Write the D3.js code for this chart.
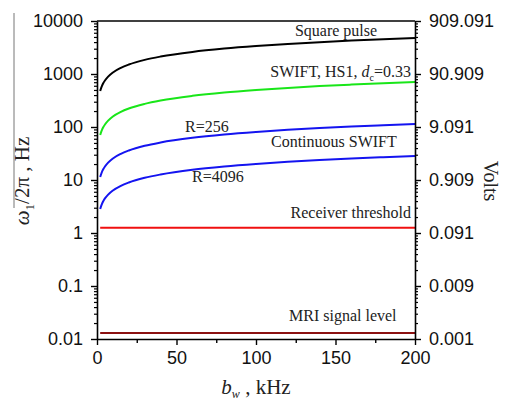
<!DOCTYPE html>
<html>
<head>
<meta charset="utf-8">
<script src="https://cdn.jsdelivr.net/npm/d3@7"></script>
<style>
  body { margin: 0; background: #fff; }
  .tick text { font-family: "Liberation Sans", Arial, sans-serif; }
  .serif { font-family: "Liberation Serif", "Times New Roman", serif; }
</style>
</head>
<body>
<svg id="vis" width="512" height="404"></svg>
<script>
// excitation bandwidth, kHz
const bw = [2, 3, 4, 5, 7, 10, 15, 20, 30, 40, 60, 80, 100, 120, 140, 160, 180, 200];

// B1 amplitude, Hz
const squarePulse = [477, 584, 675, 754, 892, 1067, 1306, 1508, 1847, 2133, 2613, 3017, 3373, 3695, 3991, 4266, 4525, 4770];
const swiftHS1    = [70.6, 86.5, 99.8, 111.6, 132, 158, 193, 223, 273, 316, 387, 447, 499, 547, 591, 631, 670, 706];
const cswiftR256  = [11.4, 14.0, 16.1, 18.0, 21.3, 25.5, 31.2, 36.0, 44.2, 51.0, 62.4, 72.1, 80.6, 88.3, 95.4, 102, 108, 114];
const cswiftR4096 = [2.84, 3.48, 4.02, 4.49, 5.31, 6.35, 7.78, 8.98, 11.0, 12.7, 15.6, 18.0, 20.1, 22.0, 23.8, 25.4, 26.9, 28.4];
const receiverThreshold = [1.25, 1.25];
const mriSignal = [0.013, 0.013];
const flatBw = [2, 200];

const xTicks = [0, 50, 100, 150, 200];
const xMinorTicks = [25, 75, 125, 175];
const yTicks = [0.01, 0.1, 1, 10, 100, 1000, 10000];
const leftTickLabels = ["0.01", "0.1", "1", "10", "100", "1000", "10000"];
const rightTickLabels = ["0.001", "0.009", "0.091", "0.909", "9.091", "90.909", "909.091"];

const margin = { top: 21, right: 97, bottom: 65, left: 97 },
      width = 512 - margin.left - margin.right,
      height = 404 - margin.top - margin.bottom;

const svg = d3.select("#vis");
const g = svg.append("g")
    .attr("transform", `translate(${margin.left},${margin.top})`);

const x = d3.scaleLinear().domain([0, 200]).range([0, width]);
const y = d3.scaleLog().domain([0.01, 10000]).range([height, 0]);

// log minor ticks 2..9 per decade
const yMinor = [];
for (let k = -2; k < 4; k++) {
  for (let m = 2; m <= 9; m++) yMinor.push(m * Math.pow(10, k));
}

const series = [
  { xs: bw, ys: squarePulse, color: "#000000" },
  { xs: bw, ys: swiftHS1, color: "#19e619" },
  { xs: bw, ys: cswiftR256, color: "#1414f0" },
  { xs: bw, ys: cswiftR4096, color: "#1414f0" },
  { xs: flatBw, ys: receiverThreshold, color: "#f01010" },
  { xs: flatBw, ys: mriSignal, color: "#8b1010" },
];

const line = d3.line()
    .x(d => x(d[0]))
    .y(d => y(d[1]))
    .curve(d3.curveMonotoneX);

g.selectAll("path.series")
  .data(series)
  .join("path")
    .attr("class", "series")
    .attr("fill", "none")
    .attr("stroke", d => d.color)
    .attr("stroke-width", 2)
    .attr("d", d => line(d.xs.map((v, i) => [v, d.ys[i]])));

// frame top
g.append("line")
    .attr("x1", 0).attr("x2", width)
    .attr("y1", 0).attr("y2", 0)
    .attr("stroke", "#000").attr("stroke-width", 1.6);

function styleAxis(sel) {
  sel.select(".domain").attr("stroke-width", 1.6);
  sel.selectAll(".tick line").attr("stroke-width", 1.4);
  sel.selectAll(".tick text").attr("font-size", 18).attr("fill", "#111");
}

// minor ticks first (no labels)
g.append("g")
    .attr("transform", `translate(0,${height})`)
    .call(d3.axisBottom(x).tickValues(xMinorTicks).tickSize(4).tickFormat(""))
    .call(s => s.select(".domain").remove())
    .selectAll("line").attr("stroke-width", 1.4);
g.append("g")
    .call(d3.axisLeft(y).tickValues(yMinor).tickSize(3).tickFormat(""))
    .call(s => s.select(".domain").remove())
    .selectAll("line").attr("stroke-width", 1.2);
g.append("g")
    .attr("transform", `translate(${width},0)`)
    .call(d3.axisRight(y).tickValues(yMinor).tickSize(3).tickFormat(""))
    .call(s => s.select(".domain").remove())
    .selectAll("line").attr("stroke-width", 1.2);

g.append("g")
    .attr("transform", `translate(0,${height})`)
    .call(d3.axisBottom(x).tickValues(xTicks).tickSize(6).tickSizeOuter(0).tickPadding(6))
    .call(styleAxis);

g.append("g")
    .call(d3.axisLeft(y).tickValues(yTicks).tickSize(6).tickSizeOuter(0).tickPadding(8)
      .tickFormat((d, i) => leftTickLabels[i]))
    .call(styleAxis);

g.append("g")
    .attr("transform", `translate(${width},0)`)
    .call(d3.axisRight(y).tickValues(yTicks).tickSize(6).tickSizeOuter(0).tickPadding(8)
      .tickFormat((d, i) => rightTickLabels[i]))
    .call(styleAxis);

// curve annotations, pixel positions inside the plot
const notes = [
  { text: "Square pulse", px: 239, py: 15, anchor: "middle" },
  { text: "R=256", px: 88, py: 111, anchor: "start" },
  { text: "Continuous SWIFT", px: 174, py: 126, anchor: "start" },
  { text: "R=4096", px: 95, py: 161, anchor: "start" },
  { text: "Receiver threshold", px: 314, py: 197, anchor: "end" },
  { text: "MRI signal level", px: 192, py: 300, anchor: "start" },
];

g.selectAll("text.note")
  .data(notes)
  .join("text")
    .attr("class", "note serif")
    .attr("x", d => d.px)
    .attr("y", d => d.py)
    .attr("text-anchor", d => d.anchor)
    .attr("font-size", 16)
    .attr("fill", "#222")
    .text(d => d.text);

const swiftLabel = g.append("text")
    .attr("class", "serif")
    .attr("x", 314).attr("y", 56)
    .attr("text-anchor", "end")
    .attr("font-size", 16)
    .attr("fill", "#222");
swiftLabel.append("tspan").text("SWIFT, HS1, ");
swiftLabel.append("tspan").attr("font-style", "italic").text("d");
swiftLabel.append("tspan").attr("font-size", 10).attr("dy", 4).text("c");
swiftLabel.append("tspan").attr("dy", -4).text("=0.33");

// axis titles
const xTitle = svg.append("text")
    .attr("class", "serif")
    .attr("x", 256).attr("y", 394)
    .attr("text-anchor", "middle")
    .attr("font-size", 21)
    .attr("fill", "#222");
xTitle.append("tspan").attr("font-style", "italic").text("b");
xTitle.append("tspan").attr("font-style", "italic").attr("font-size", 12).attr("dy", 4).text("w");
xTitle.append("tspan").attr("dy", -4).text(" , kHz");

const yTitle = svg.append("text")
    .attr("class", "serif")
    .attr("transform", "translate(29,181) rotate(-90)")
    .attr("text-anchor", "middle")
    .attr("font-size", 21)
    .attr("fill", "#222");
yTitle.append("tspan").attr("font-style", "italic").text("ω");
yTitle.append("tspan").attr("font-size", 13).attr("dy", 5).text("1");
yTitle.append("tspan").attr("dy", -5).text("/2π , Hz");

svg.append("text")
    .attr("class", "serif")
    .attr("transform", "translate(484,181) rotate(90)")
    .attr("text-anchor", "middle")
    .attr("font-size", 20)
    .attr("fill", "#222")
    .text("Volts");

// thin rule left of the y title, as in the scan
svg.append("line")
    .attr("x1", 14).attr("x2", 14)
    .attr("y1", 13).attr("y2", 208)
    .attr("stroke", "#777").attr("stroke-width", 1);
</script>
</body>
</html>
